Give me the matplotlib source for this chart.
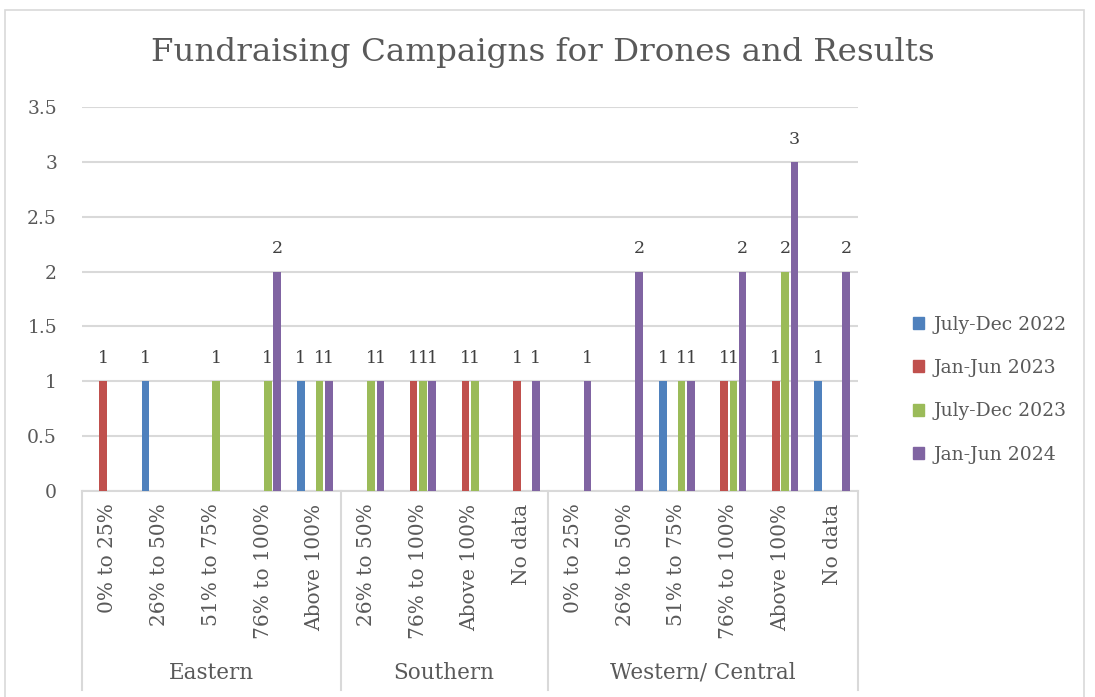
import numpy as np
import matplotlib
matplotlib.use("Agg")
import matplotlib.pyplot as plt
from matplotlib.patches import Patch, Rectangle
from matplotlib.lines import Line2D

plt.rcParams["font.family"] = ["DejaVu Serif"]

# categories: region -> funding bands
regions = ["Eastern", "Southern", "Western/ Central"]
region_sizes = [5, 4, 6]
bands = [
    "0% to 25%", "26% to 50%", "51% to 75%", "76% to 100%", "Above 100%",
    "26% to 50%", "76% to 100%", "Above 100%", "No data",
    "0% to 25%", "26% to 50%", "51% to 75%", "76% to 100%", "Above 100%", "No data",
]

series_names = ["July-Dec 2022", "Jan-Jun 2023", "July-Dec 2023", "Jan-Jun 2024"]
series_colors = ["#4F81BD", "#C0504D", "#9BBB59", "#8064A2"]

# 0 = no campaign (nothing drawn)
jul_dec_2022 = [0, 1, 0, 0, 1,  0, 0, 0, 0,  0, 0, 1, 0, 0, 1]
jan_jun_2023 = [1, 0, 0, 0, 0,  0, 1, 1, 1,  0, 0, 0, 1, 1, 0]
jul_dec_2023 = [0, 0, 1, 1, 1,  1, 1, 1, 0,  0, 0, 1, 1, 2, 0]
jan_jun_2024 = [0, 0, 0, 2, 1,  1, 1, 0, 1,  1, 2, 1, 2, 3, 2]
series_values = [jul_dec_2022, jan_jun_2023, jul_dec_2023, jan_jun_2024]

TEXT = "#595959"
GRID = "#D9D9D9"

fig = plt.figure(figsize=(10.95, 6.97), dpi=100)
ax = fig.add_axes([0.0749, 0.2956, 0.7087, 0.5509])

# chart border
fig.patches.append(Rectangle((0.005, -0.01), 0.985, 0.995, transform=fig.transFigure,
                             fill=False, edgecolor=GRID, linewidth=1.2))

x = np.arange(len(bands))
slot = 0.18
for k, (vals, color) in enumerate(zip(series_values, series_colors)):
    vals = np.array(vals, dtype=float)
    pos = x + (k - 1.5) * slot
    mask = vals > 0
    ax.bar(pos[mask], vals[mask], width=slot * 0.82, color=color, zorder=3)
    for px, v in zip(pos[mask], vals[mask]):
        ax.text(px, v + 0.13, f"{int(v)}", ha="center", va="bottom",
                fontsize=12.5, color="#404040", zorder=4)

ax.set_xlim(-0.5, len(bands) - 0.5)
ax.set_ylim(0, 3.5)
ax.set_yticks(np.arange(0, 3.51, 0.5))
ax.set_yticklabels(["0", "0.5", "1", "1.5", "2", "2.5", "3", "3.5"])
ax.yaxis.grid(True, color=GRID, linewidth=1.5, zorder=0)
ax.tick_params(axis="y", length=0, pad=18, labelsize=13.5, labelcolor=TEXT)

ax.set_xticks(x)
ax.set_xticklabels(bands, rotation=90, fontsize=14.5, color=TEXT)
ax.tick_params(axis="x", length=0, pad=9)

for side in ["left", "right", "top"]:
    ax.spines[side].set_visible(False)
ax.spines["bottom"].set_color(GRID)
ax.spines["bottom"].set_linewidth(1.5)

# second level of the category axis: region names and separators
trans = ax.get_xaxis_transform()
edges = np.concatenate([[0], np.cumsum(region_sizes)]) - 0.5
for xe in edges:
    ax.add_line(Line2D([xe, xe], [0, -0.518], transform=trans, color=GRID,
                       linewidth=1.5, clip_on=False))
for name, a, b in zip(regions, edges[:-1], edges[1:]):
    ax.text((a + b) / 2, -0.474, name, transform=trans, ha="center", va="center",
            fontsize=15.5, color=TEXT)

fig.text(0.4955, 0.925, "Fundraising Campaigns for Drones and Results",
         ha="center", va="center", fontsize=23.4, color=TEXT)

handles = [Patch(facecolor=c, edgecolor=c) for c in series_colors]
leg = fig.legend(handles, series_names, loc="center left",
                 bbox_to_anchor=(0.818, 0.441), frameon=False, fontsize=13.5,
                 handlelength=0.6, handleheight=0.6, handletextpad=0.5,
                 labelspacing=1.35)
for t in leg.get_texts():
    t.set_color(TEXT)

fig.savefig("out.png", dpi=100)
